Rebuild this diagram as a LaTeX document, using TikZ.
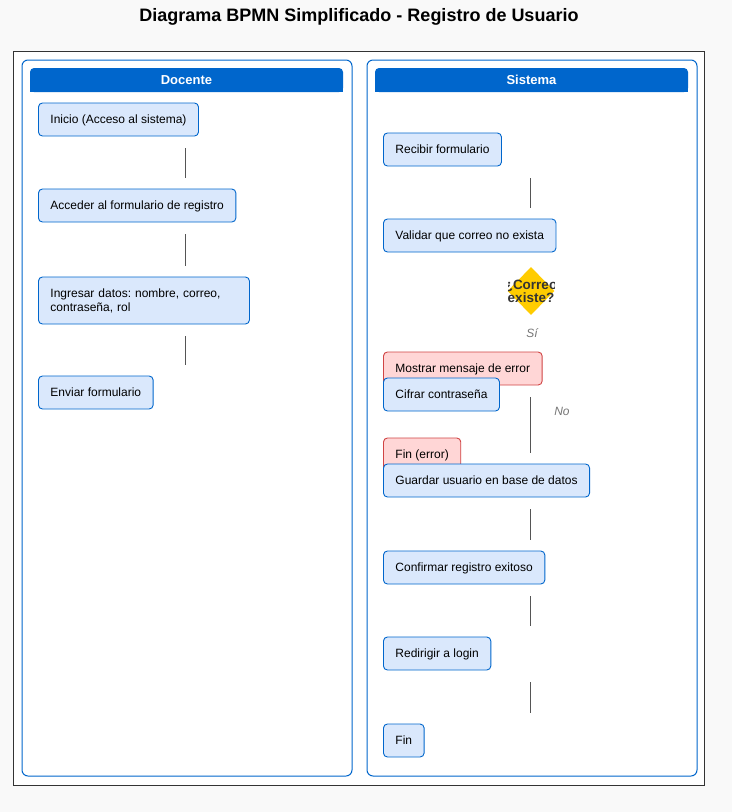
\documentclass[tikz,border=0pt]{standalone}
\usepackage{fontspec}
\setmainfont{Liberation Sans}
\frenchspacing
\usetikzlibrary{shapes.geometric,calc}
\definecolor{bgc}{HTML}{F9F9F9}
\definecolor{laneblue}{HTML}{0066CC}
\definecolor{taskfill}{HTML}{DAE8FC}
\definecolor{errfill}{HTML}{FFD6D6}
\definecolor{errdraw}{HTML}{D04444}
\definecolor{framec}{HTML}{333333}
\definecolor{connc}{HTML}{555555}
\definecolor{gold}{HTML}{FFCC00}
\definecolor{labgray}{HTML}{777777}
\tikzset{
  taskbase/.style={draw=laneblue, fill=taskfill, rounded corners=4pt, line width=0.9pt,
    inner xsep=12pt, inner ysep=0pt, minimum height=33pt, anchor=west,
    font=\fontsize{12}{14}\selectfont, text=black},
  task/.style={taskbase, text height=10.9pt, text depth=2.5pt},
  errtask/.style={task, draw=errdraw, fill=errfill},
  conn/.style={draw=connc, line width=1pt},
  lanebox/.style={draw=laneblue, line width=1pt, rounded corners=6pt},
  hdrtext/.style={text=white, font=\bfseries\fontsize{13}{15}\selectfont},
  lbl/.style={text=labgray, font=\itshape\fontsize{12}{14}\selectfont}
}
\begin{document}
\begin{tikzpicture}[x=1pt,y=-1pt]
\useasboundingbox[fill=bgc] (0,0) rectangle (732,812);
\node[font=\bfseries\fontsize{18}{21}\selectfont] (title) at (359,17) {Diagrama BPMN Simplificado - Registro de Usuario};
\draw[framec, line width=1pt, fill=white] (13,51) rectangle (704,785);

% lanes
\draw[lanebox] (22,60) rectangle (352,776);
\fill[laneblue, rounded corners=4pt] (30,68) rectangle (343,92);
\fill[laneblue] (30,80) rectangle (343,92);
\node[hdrtext] (hdoc) at (186.5,80) {Docente};

\draw[lanebox] (367,60) rectangle (697,776);
\fill[laneblue, rounded corners=4pt] (375,68) rectangle (688,92);
\fill[laneblue] (375,80) rectangle (688,92);
\node[hdrtext] (hsis) at (531.5,80) {Sistema};

% Docente lane
\node[task] (d1) at (38,119.5) {Inicio (Acceso al sistema)};
\node[task] (d2) at (38,205.5) {Acceder al formulario de registro};
\node[taskbase, text width=187pt, align=left, minimum height=47pt] (d3) at (38,300.5) {Ingresar datos: nombre, correo,\\contraseña, rol};
\node[task] (d4) at (38,392.5) {Enviar formulario};

\coordinate (lx) at (185,0);
\draw[conn] ([yshift=-12pt]d1.south -| lx) -- ([yshift=11pt]d2.north -| lx);
\draw[conn] ([yshift=-12pt]d2.south -| lx) -- ([yshift=11pt]d3.north -| lx);
\draw[conn] ([yshift=-12pt]d3.south -| lx) -- ([yshift=11pt]d4.north -| lx);

% Sistema lane
\node[task] (s1) at (383,149.5) {Recibir formulario};
\node[task] (s2) at (383,235.5) {Validar que correo no exista};
\node[diamond, fill=gold, minimum width=47pt, minimum height=48pt, inner sep=0pt] (dec) at (531,291) {};
\begin{scope}
  \clip (508,266) rectangle (554.5,316);
  \node[align=center, text=black!80, font=\bfseries\fontsize{13.5}{13.5}\selectfont] (dect) at (531,291.5) {¿Correo\\existe?};
\end{scope}
\node[lbl] (si) at (532,333) {Sí};
\node[errtask] (s3) at (383,368.5) {Mostrar mensaje de error};
\node[task] (s4) at (383,394.5) {Cifrar contraseña};
\node[lbl] (no) at (562,411) {No};
\node[errtask] (s5) at (383,454.5) {Fin (error)};
\node[task] (s6) at (383,480.5) {Guardar usuario en base de datos};
\node[task] (s7) at (383,567.5) {Confirmar registro exitoso};
\node[task] (s8) at (383,653.5) {Redirigir a login};
\node[task] (s9) at (383,740.5) {Fin};

\coordinate (rx) at (530,0);
\draw[conn] ([yshift=-12pt]s1.south -| rx) -- ([yshift=11pt]s2.north -| rx);
\draw[conn] ([yshift=-12pt]s3.south -| rx) -- ([yshift=11pt]s5.north -| rx);
\draw[conn] ([yshift=-12pt]s4.south -| rx) -- ([yshift=11pt]s6.north -| rx);
\draw[conn] ([yshift=-12pt]s6.south -| rx) -- ([yshift=11pt]s7.north -| rx);
\draw[conn] ([yshift=-12pt]s7.south -| rx) -- ([yshift=11pt]s8.north -| rx);
\draw[conn] ([yshift=-12pt]s8.south -| rx) -- ([yshift=11pt]s9.north -| rx);
\end{tikzpicture}
\end{document}
